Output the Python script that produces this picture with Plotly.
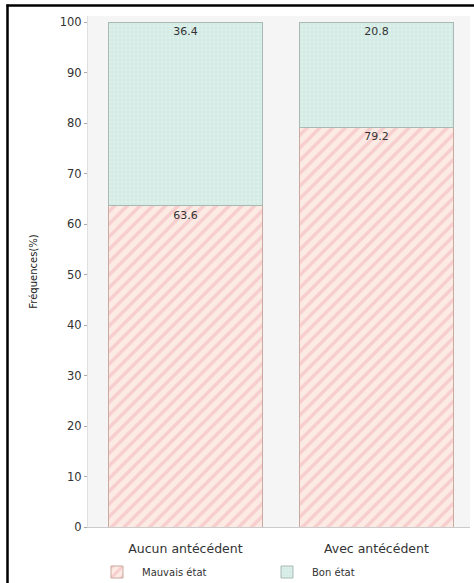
import plotly.graph_objects as go

categories = ["Aucun antécédent", "Avec antécédent"]
mauvais = [63.6, 79.2]
bon = [36.4, 20.8]
y_ticks = [0, 10, 20, 30, 40, 50, 60, 70, 80, 90, 100]

W, H = 474, 583
L, R, T, B = 88, 4, 16, 56

fig = go.Figure()
fig.add_trace(go.Bar(
    x=categories, y=mauvais, name="Mauvais état",
    text=[f"{v:.1f}" for v in mauvais], textposition="inside",
    insidetextanchor="end", textangle=0,
    textfont=dict(size=11, color="#333333", family="DejaVu Sans"),
    marker=dict(color="#fbe8e0",
                line=dict(color="#c9a9a0", width=1),
                pattern=dict(shape="/", fgcolor="#f2b0b6", bgcolor="#fcebe4",
                             size=9, solidity=0.4)),
    width=0.807,
))
fig.add_trace(go.Bar(
    x=categories, y=bon, name="Bon état",
    text=[f"{v:.1f}" for v in bon], textposition="inside",
    insidetextanchor="end", textangle=0,
    textfont=dict(size=11, color="#333333", family="DejaVu Sans"),
    marker=dict(color="#d5ece5",
                line=dict(color="#a9b9b4", width=1),
                pattern=dict(shape=".", fgcolor="#eaf6f2", bgcolor="#d3ebe4",
                             size=4, solidity=0.4)),
    width=0.807,
))

pw = W - L - R
ph = H - T - B
px = lambda p: (p - L) / pw
py = lambda p: (H - B - p) / ph

fig.update_layout(
    width=W, height=H, barmode="stack",
    margin=dict(l=L, r=R, t=T, b=B, autoexpand=False),
    paper_bgcolor="white", plot_bgcolor="#f5f5f5",
    font=dict(family="DejaVu Sans", size=10, color="#333333"),
    showlegend=True,
    legend=dict(orientation="h", x=92 / W, xref="container",
                y=1 - 572 / H, yref="container",
                xanchor="left", yanchor="middle",
                font=dict(size=10, color="#333333"), traceorder="normal",
                itemwidth=40, entrywidth=115, bgcolor="rgba(0,0,0,0)"),
    xaxis=dict(range=[-0.51, 1.49], showgrid=False, ticks="",
               tickfont=dict(size=12.5, color="#333333"),
               ticklabelstandoff=10,
               showline=True, linecolor="#cccccc", linewidth=1),
    yaxis=dict(range=[0, 101.2], tickvals=y_ticks, showgrid=False,
               ticks="outside", ticklen=3, tickcolor="#aaaaaa",
               tickfont=dict(size=11.5, color="#333333"),
               title=dict(text="Fréquences(%)", font=dict(size=10, color="#222222"),
                          standoff=20),
               showline=True, linecolor="#e0e0e0", linewidth=1, zeroline=False),
    shapes=[
        dict(type="line", xref="paper", yref="paper", x0=px(6.5), x1=px(W + 5),
             y0=py(5.5), y1=py(5.5), line=dict(color="black", width=2.5)),
        dict(type="line", xref="paper", yref="paper", x0=px(7.5), x1=px(7.5),
             y0=py(4.5), y1=py(H + 5), line=dict(color="black", width=2.5)),
    ],
)

fig.write_html("out.html", config={"displayModeBar": False},
               post_script="document.body.style.margin='0';document.body.style.overflow='hidden';")
